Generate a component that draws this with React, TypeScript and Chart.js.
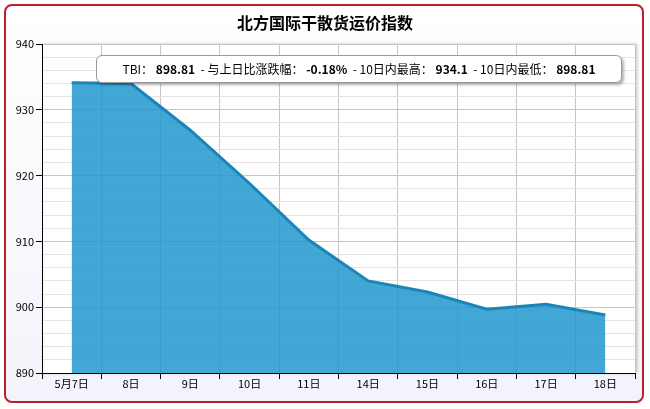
import React, { useEffect, useRef } from 'react';
import Chart from 'chart.js/auto';

// 北方国际干散货运价指数 (TBI), last 10 trading days
const categories = ['5月7日', '8日', '9日', '10日', '11日', '14日', '15日', '16日', '17日', '18日'];
const tbiValues = [934.1, 934.0, 926.9, 918.8, 910.2, 904.0, 902.3, 899.7, 900.43, 898.81];
const yMin = 890;
const yMax = 940;

const infoItems = [
  { label: 'TBI：', value: '898.81' },
  { label: '与上日比涨跌幅：', value: '-0.18%' },
  { label: '10日内最高：', value: '934.1' },
  { label: '10日内最低：', value: '898.81' },
];

const FONT = '"Noto Sans CJK SC", "DejaVu Sans", sans-serif';

// white plot area with a soft shadow on the right side
const plotBackground = {
  id: 'plotBackground',
  beforeDraw(chart: Chart) {
    const { ctx, chartArea } = chart;
    ctx.save();
    ctx.shadowColor = 'rgba(0,0,0,0.25)';
    ctx.shadowBlur = 3;
    ctx.shadowOffsetX = 2;
    ctx.fillStyle = '#ffffff';
    ctx.fillRect(chartArea.left, chartArea.top, chartArea.right - chartArea.left, chartArea.bottom - chartArea.top);
    ctx.restore();
  },
};

const App: React.FC = () => {
  const chartRef = useRef<HTMLCanvasElement>(null);

  useEffect(() => {
    if (!chartRef.current) return;
    const ctx = chartRef.current.getContext('2d');
    if (!ctx) return;

    const chart = new Chart(ctx, {
      type: 'line',
      data: {
        labels: categories,
        datasets: [
          {
            label: 'TBI',
            data: tbiValues,
            fill: 'start',
            backgroundColor: 'rgba(30,150,204,0.84)',
            borderColor: '#1a86b8',
            borderWidth: 3,
            pointRadius: 0,
            tension: 0,
          },
        ],
      },
      options: {
        animation: false,
        responsive: true,
        maintainAspectRatio: false,
        layout: { padding: { left: 0, right: 15, top: 44, bottom: 0 } },
        plugins: {
          legend: { display: false },
          tooltip: { enabled: false },
          title: { display: false },
        },
        scales: {
          x: {
            type: 'category',
            offset: true,
            afterFit: (scale: any) => {
              scale.height = 36;
            },
            grid: {
              offset: true,
              color: '#c6c6c6',
              tickColor: '#000',
              tickLength: 6,
            },
            border: { color: '#000', width: 1 },
            ticks: {
              color: '#000',
              padding: -2,
              font: { family: FONT, size: 11 },
              maxRotation: 0,
              autoSkip: false,
            },
          },
          y: {
            min: yMin,
            max: yMax,
            afterFit: (scale: any) => {
              scale.width = 42;
            },
            grid: {
              color: (c: any) => (c.tick && c.tick.value % 10 === 0 ? '#c6c6c6' : '#e4e4e4'),
              tickColor: (c: any) => (c.tick && c.tick.value % 10 === 0 ? '#000' : 'rgba(0,0,0,0)'),
              tickLength: 6,
            },
            border: { color: '#000', width: 1 },
            ticks: {
              stepSize: 2,
              autoSkip: false,
              color: '#000',
              padding: 2,
              font: { family: FONT, size: 11 },
              callback: (v: any) => (Number(v) % 10 === 0 ? String(v) : ''),
            },
          },
        },
      },
      plugins: [plotBackground],
    });

    return () => {
      chart.destroy();
    };
  }, []);

  return (
    <div style={{ position: 'fixed', left: 0, top: 0, width: 650, height: 409, background: '#fff', fontFamily: FONT }}>
      <div
        style={{
          position: 'absolute',
          left: 4,
          top: 4,
          width: 636,
          height: 395,
          border: '2px solid #b5222c',
          borderRadius: 8,
          background: 'linear-gradient(#ffffff, #f3f3fb)',
        }}
      />
      <div style={{ position: 'absolute', left: 0, top: 0, width: 650, height: 409 }}>
        <canvas ref={chartRef} />
      </div>
      <div
        style={{
          position: 'absolute',
          left: 0,
          top: 10,
          width: 650,
          textAlign: 'center',
          fontSize: 16,
          fontWeight: 'bold',
          color: '#000',
        }}
      >
        北方国际干散货运价指数
      </div>
      <div
        style={{
          position: 'absolute',
          left: 96,
          top: 55,
          width: 524,
          height: 26,
          lineHeight: '26px',
          background: '#fff',
          border: '1px solid #9a9a9a',
          borderRadius: 6,
          boxShadow: '2px 2px 3px rgba(0,0,0,0.3)',
          textAlign: 'center',
          fontSize: 12,
          color: '#000',
          whiteSpace: 'nowrap',
        }}
      >
        {infoItems.map((it, i) => (
          <span key={i}>
            {i > 0 ? '\u00a0- ' : ''}
            {it.label}
            <span style={{ fontWeight: 'bold' }}>&nbsp;{it.value}</span>
            {' '}
          </span>
        ))}
      </div>
    </div>
  );
};

export default App;
